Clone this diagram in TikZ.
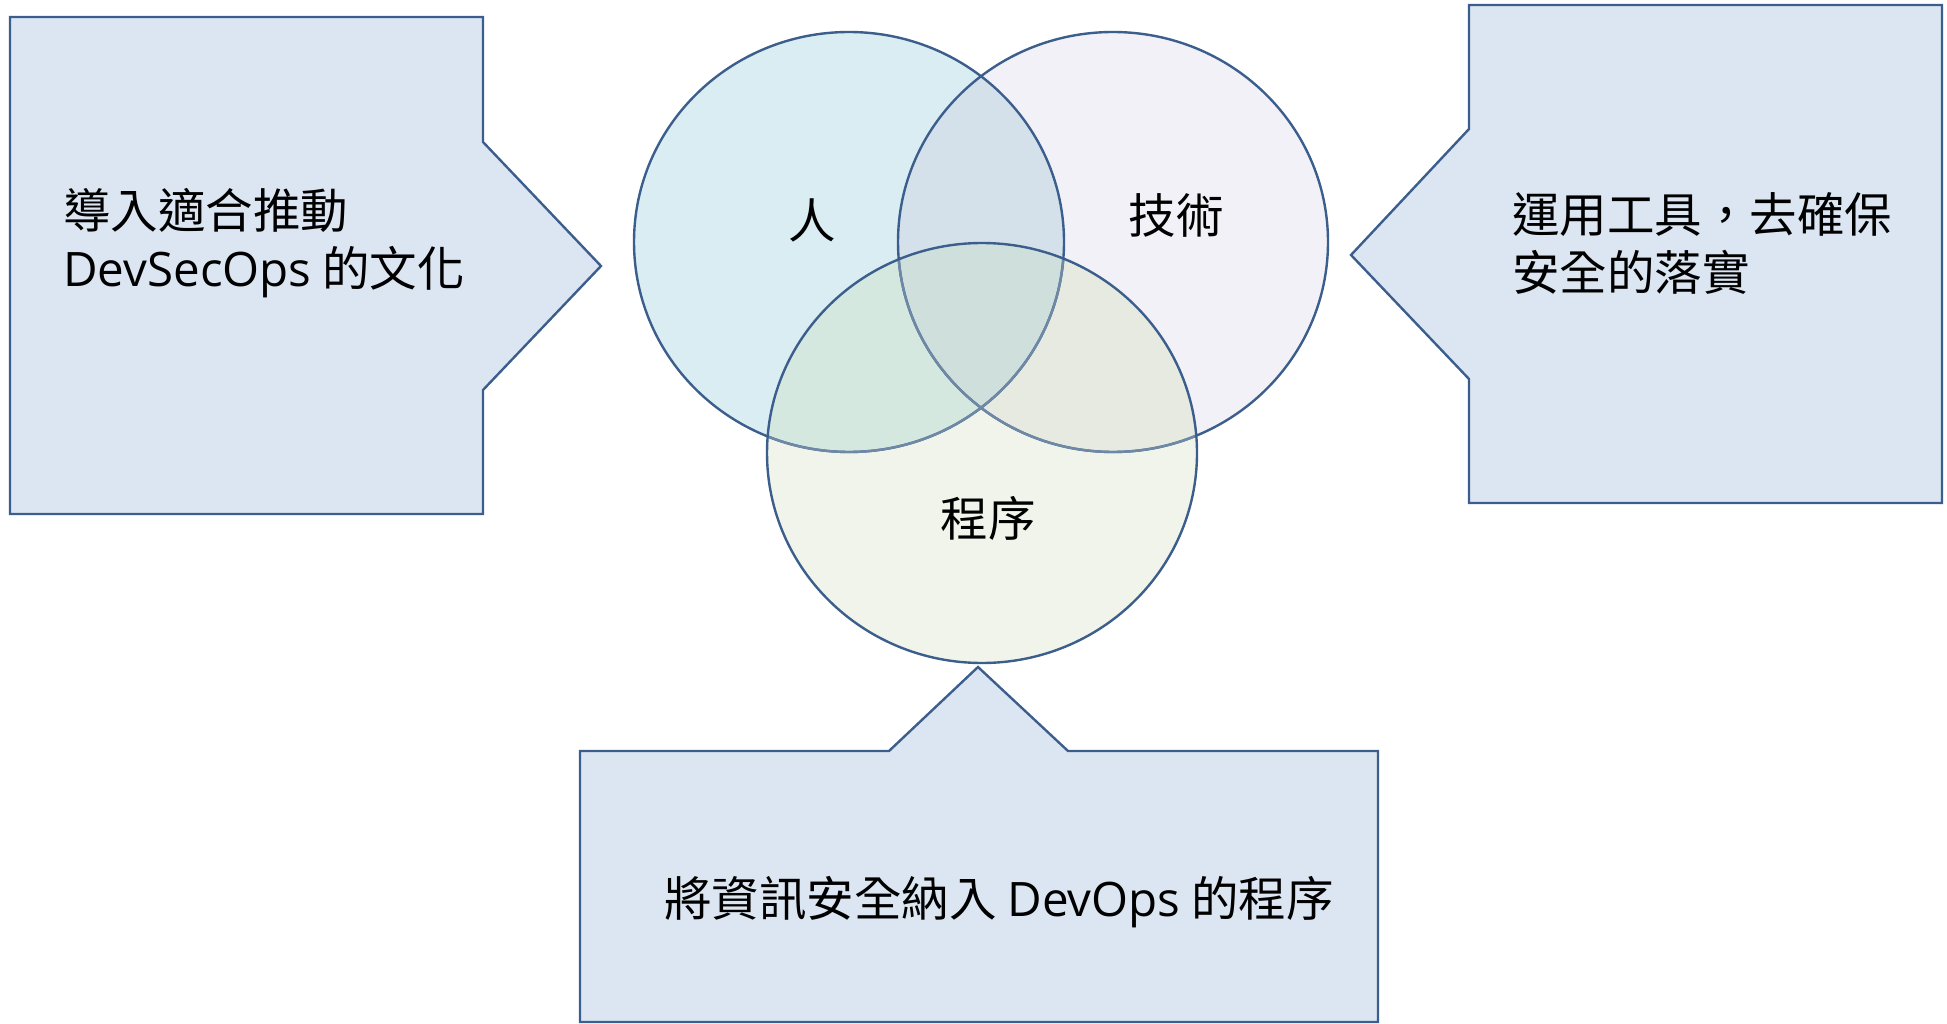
\documentclass[tikz,border=0pt]{standalone}
\usepackage{fontspec}
\setmainfont{Noto Sans CJK TC}
\newfontfamily\latinfont{Open Sans}

% colours of the outlines and fills
\definecolor{edge}{HTML}{3B5E8C}
\definecolor{calloutfill}{HTML}{DCE6F2}
\definecolor{fillA}{HTML}{DAEDF3}
\definecolor{fillB}{HTML}{F2F1F7}
\definecolor{fillC}{HTML}{F0F4EA}
\definecolor{fillAB}{HTML}{D4E1EB}
\definecolor{fillAC}{HTML}{D4E8E0}
\definecolor{fillBC}{HTML}{E6EAE0}
\definecolor{fillABC}{HTML}{CFE0DC}

\begin{document}
\begin{tikzpicture}[x=1pt,y=-1pt,
    outline/.style={draw=edge, line width=2.4pt, line join=miter},
    callout/.style={outline, fill=calloutfill},
    bigtext/.style={font=\fontsize{47.5}{58}\selectfont, align=left, inner sep=0pt, text=black},
  ]
  \useasboundingbox (0,0) rectangle (1947,1024);

  % the three sets
  \def\setA{(849,242) ellipse [x radius=215pt, y radius=210pt]}
  \def\setB{(1113,242) ellipse [x radius=215pt, y radius=210pt]}
  \def\setC{(982,453) ellipse [x radius=215pt, y radius=210pt]}

  \fill[fillA] \setA;
  \fill[fillB] \setB;
  \fill[fillC] \setC;
  \begin{scope}\clip \setA; \fill[fillAB] \setB; \end{scope}
  \begin{scope}\clip \setA; \fill[fillAC] \setC; \end{scope}
  \begin{scope}\clip \setB; \fill[fillBC] \setC; \end{scope}
  \begin{scope}\clip \setA; \clip \setB; \fill[fillABC] \setC; \end{scope}

  \draw[outline] \setA;
  \draw[outline] \setB;
  % outlines seen through the lower circle are paler
  \begin{scope}\clip \setC;
    \draw[outline, draw=edge!72!fillC] \setA;
    \draw[outline, draw=edge!72!fillC] \setB;
  \end{scope}
  \draw[outline] \setC;

  \node[bigtext] (people) at (812,220) {人};
  \node[bigtext] (tech) at (1176,215) {技術};
  \node[bigtext] (process) at (988,518) {程序};

  % callouts
  \draw[callout] (10,17) -- (483,17) -- (483,142) -- (601,266) -- (483,390)
    -- (483,514) -- (10,514) -- cycle;
  \draw[callout] (1469,5) -- (1942,5) -- (1942,503) -- (1469,503) -- (1469,379)
    -- (1351,255) -- (1469,129) -- cycle;
  \draw[callout] (580,751) -- (889,751) -- (978,667) -- (1068,751) -- (1378,751)
    -- (1378,1022) -- (580,1022) -- cycle;

  \node[bigtext, anchor=west] (culture) at (63,243) {導入適合推動\\{\latinfont DevSecOps} 的文化};
  \node[bigtext, anchor=west] (tools) at (1512,243) {運用工具，去確保\\安全的落實};
  \node[bigtext] (secproc) at (999,902) {將資訊安全納入 {\latinfont DevOps} 的程序};
\end{tikzpicture}
\end{document}
